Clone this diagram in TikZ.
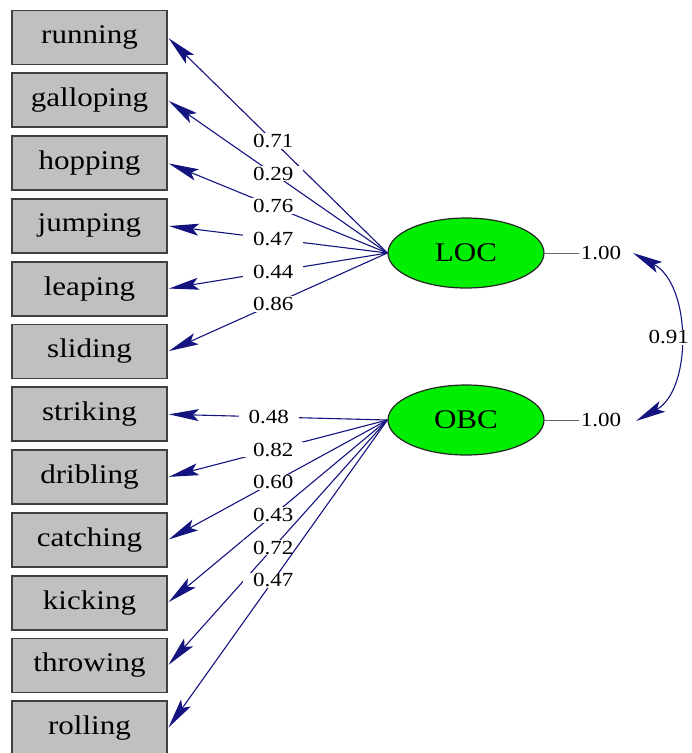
\documentclass[tikz,border=0pt]{standalone}
\usepackage{fontspec}
\setmainfont{Liberation Serif}[FakeStretch=1.15]
\usetikzlibrary{shapes.geometric,arrows.meta}
\definecolor{navy}{RGB}{20,20,128}
\definecolor{boxgray}{RGB}{192,192,192}
\definecolor{latgreen}{RGB}{0,238,0}
\tikzset{headtip/.tip={Stealth[length=30pt,width=12pt,inset=6pt]}}
\begin{document}
\begin{tikzpicture}[x=1pt,y=-1pt,
  obs/.style={draw=black!75, line width=1.8pt, fill=boxgray, minimum width=155pt, minimum height=54pt, inner sep=0pt, font=\fontsize{27}{30}\selectfont},
  lat/.style={ellipse, draw=black!85, line width=1.2pt, fill=latgreen, minimum width=156pt, minimum height=70pt, inner sep=0pt, font=\fontsize{27}{30}\selectfont},
  pth/.style={draw=navy, line width=1.1pt, -headtip, shorten >=1pt},
  lab/.style={fill=white, inner xsep=10pt, inner ysep=1pt, font=\fontsize{20}{22}\selectfont},
  vlab/.style={inner sep=2pt, font=\fontsize{20}{22}\selectfont},
  vline/.style={draw=black!60, line width=0.8pt}]
\useasboundingbox[fill=white] (0,0) rectangle (692,753);
% observed variables
\node[obs] (running)   at (89.5, 37.5) {running};
\node[obs] (galloping) at (89.5,100.3) {galloping};
\node[obs] (hopping)   at (89.5,163.1) {hopping};
\node[obs] (jumping)   at (89.5,225.9) {jumping};
\node[obs] (leaping)   at (89.5,288.7) {leaping};
\node[obs] (sliding)   at (89.5,351.5) {sliding};
\node[obs] (striking)  at (89.5,414.3) {striking};
\node[obs] (dribling)  at (89.5,477.1) {dribling};
\node[obs] (catching)  at (89.5,539.9) {catching};
\node[obs] (kicking)   at (89.5,602.7) {kicking};
\node[obs] (throwing)  at (89.5,665.5) {throwing};
\node[obs] (rolling)   at (89.5,728.3) {rolling};
% latent variables
\node[lat] (LOC) at (466,253) {LOC};
\node[lat] (OBC) at (466,420) {OBC};
% loadings
\draw[pth] (LOC.west) -- node[lab,pos=0.52]{0.71} (running.east);
\draw[pth] (LOC.west) -- node[lab,pos=0.52]{0.29} (galloping.east);
\draw[pth] (LOC.west) -- node[lab,pos=0.52]{0.76} (hopping.east);
\draw[pth] (LOC.west) -- node[lab,pos=0.52]{0.47} (jumping.east);
\draw[pth] (LOC.west) -- node[lab,pos=0.52]{0.44} (leaping.east);
\draw[pth] (LOC.west) -- node[lab,pos=0.52]{0.86} (sliding.east);
\draw[pth] (OBC.west) -- node[lab,pos=0.54]{0.48} (striking.east);
\draw[pth] (OBC.west) -- node[lab,pos=0.52]{0.82} (dribling.east);
\draw[pth] (OBC.west) -- node[lab,pos=0.52]{0.60} (catching.east);
\draw[pth] (OBC.west) -- node[lab,pos=0.52]{0.43} (kicking.east);
\draw[pth] (OBC.west) -- node[lab,pos=0.52]{0.72} (throwing.east);
\draw[pth] (OBC.west) -- node[lab,pos=0.52]{0.47} (rolling.east);
% variances
\node[vlab] (vLOC) at (601,253) {1.00};
\node[vlab] (vOBC) at (601,420) {1.00};
\draw[vline] (LOC.east) -- (vLOC.west);
\draw[vline] (OBC.east) -- (vOBC.west);
% covariance
\coordinate (c1) at (633,253);
\coordinate (c2) at (636,421);
\draw[draw=navy, line width=1.1pt, headtip-headtip]
  (c1) .. controls (692,285) and (692,390) .. node[pos=0.5, fill=white, inner sep=1pt, xshift=-9pt, font=\fontsize{20}{22}\selectfont]{0.91} (c2);
\end{tikzpicture}
\end{document}
